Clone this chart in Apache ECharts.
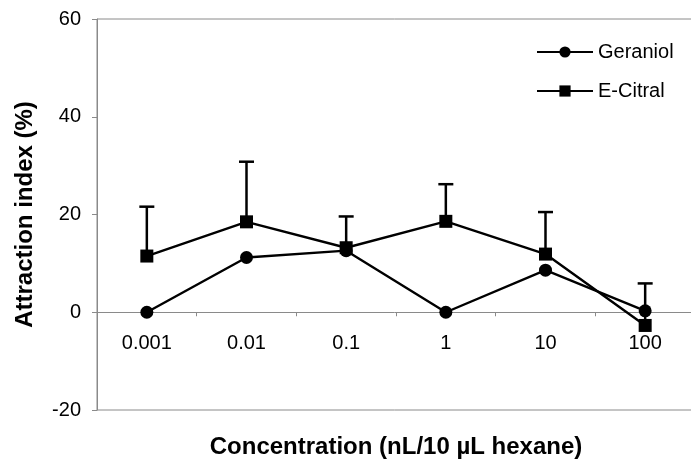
<!DOCTYPE html>
<html>
<head>
<meta charset="utf-8">
<script src="https://cdn.jsdelivr.net/npm/echarts@6/dist/echarts.min.js"></script>
<style>
  html, body { margin: 0; padding: 0; background: #fff; }
  #main { width: 691px; height: 464px; }
</style>
</head>
<body>
<div id="main"></div>
<script>
var concentrations = ['0.001', '0.01', '0.1', '1', '10', '100'];
var geraniol = [0, 11.2, 12.6, 0, 8.6, 0.3];
var eCitral = [11.5, 18.5, 13.2, 18.6, 11.9, -2.7];
// upper end of the error bars drawn above E-Citral
var eCitralErrTop = [21.6, 30.8, 19.6, 26.2, 20.5, 5.9];
var yTicks = [-20, 0, 20, 40, 60];

var font = 'Liberation Sans, Arial, sans-serif';
var axisGray = '#8a8a8a';

var gridTop = 19, gridHeight = 391;
var yMin = yTicks[0], yMax = yTicks[yTicks.length - 1];
// move the category axis up to the zero line
var xAxisOffset = -gridHeight * (0 - yMin) / (yMax - yMin);

var myChart = echarts.init(document.getElementById('main'));

// error bar: vertical stem + cap
function renderErr(params, api) {
    var x = api.value(0);
    var base = api.coord([x, api.value(1)]);
    var top = api.coord([x, api.value(2)]);
    var half = 7.5;
    var style = { stroke: '#000', lineWidth: 2.5 };
    return {
        type: 'group',
        children: [
            { type: 'line', shape: { x1: base[0], y1: base[1], x2: top[0], y2: top[1] }, style: style },
            { type: 'line', shape: { x1: top[0] - half, y1: top[1], x2: top[0] + half, y2: top[1] }, style: style }
        ]
    };
}

var errData = concentrations.map(function (c, i) {
    return [i, eCitral[i], eCitralErrTop[i]];
});

myChart.setOption({
    animation: false,
    grid: {
        left: 97,
        top: gridTop,
        width: 598,
        height: gridHeight,
        containLabel: false,
        outerBoundsMode: 'none',
        show: true,
        borderColor: axisGray,
        borderWidth: 1
    },
    legend: {
        orient: 'vertical',
        left: 531,
        top: 37,
        itemWidth: 56,
        itemHeight: 14,
        itemGap: 19,
        textStyle: { fontFamily: font, fontSize: 20, color: '#000' },
        data: ['Geraniol', 'E-Citral']
    },
    xAxis: {
        type: 'category',
        data: concentrations,
        boundaryGap: true,
        position: 'bottom',
        offset: xAxisOffset,
        name: 'Concentration (nL/10 µL hexane)',
        nameLocation: 'middle',
        nameGap: 123,
        nameTextStyle: { fontFamily: font, fontSize: 24, fontWeight: 'bold', color: '#000' },
        axisLine: { onZero: false, lineStyle: { color: axisGray, width: 1 } },
        axisTick: { show: true, length: 4, lineStyle: { color: axisGray } },
        axisLabel: { fontFamily: font, fontSize: 20, color: '#000', margin: 21 },
        splitLine: { show: false }
    },
    yAxis: {
        type: 'value',
        min: yMin,
        max: yMax,
        interval: 20,
        name: 'Attraction index (%)',
        nameLocation: 'middle',
        nameGap: 60,
        nameTextStyle: { fontFamily: font, fontSize: 24, fontWeight: 'bold', color: '#000' },
        axisLine: { show: true, lineStyle: { color: axisGray, width: 1 } },
        axisTick: { show: true, length: 5, lineStyle: { color: axisGray } },
        axisLabel: { fontFamily: font, fontSize: 20, color: '#000', margin: 16 },
        splitLine: { show: false }
    },
    series: [
        {
            name: 'E-Citral err',
            type: 'custom',
            renderItem: renderErr,
            data: errData,
            z: 1
        },
        {
            name: 'Geraniol',
            type: 'line',
            data: geraniol,
            symbol: 'circle',
            symbolSize: 13,
            itemStyle: { color: '#000' },
            lineStyle: { color: '#000', width: 2.4 },
            z: 3
        },
        {
            name: 'E-Citral',
            type: 'line',
            data: eCitral,
            symbol: 'rect',
            symbolSize: 13,
            itemStyle: { color: '#000' },
            lineStyle: { color: '#000', width: 2.4 },
            z: 3
        }
    ]
});
</script>
</body>
</html>
